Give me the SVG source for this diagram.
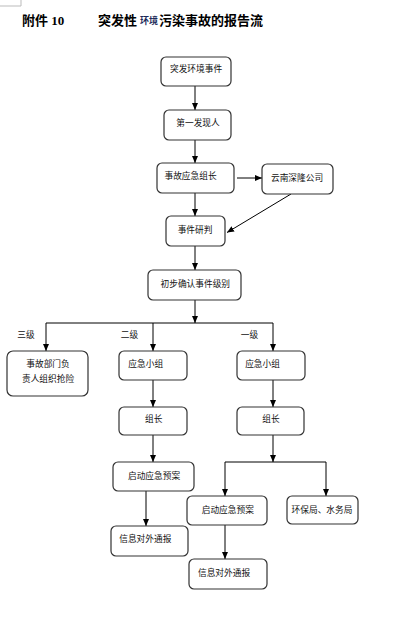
<svg xmlns="http://www.w3.org/2000/svg" width="419" height="628" viewBox="0 0 419 628">
<style>
.box{fill:#fff;stroke:#333;stroke-width:1.2}
.t{font-family:"Noto Sans CJK SC","Liberation Sans",sans-serif;font-size:8.7px;fill:#111;text-anchor:middle}
.ln{fill:none;stroke:#000;stroke-width:1}
.title{font-family:"Liberation Serif","Noto Sans CJK SC",serif;font-weight:bold;font-size:13px;fill:#000}
</style>
<defs>
<marker id="ah" markerUnits="userSpaceOnUse" markerWidth="8" markerHeight="8" viewBox="0 0 8 8" refX="7" refY="4" orient="auto">
<path d="M0,1 L7,4 L0,7 Z" fill="#000"/>
</marker>
</defs>
<rect width="419" height="628" fill="#fff"/>
<path d="M0,6 H21 V0" fill="none" stroke="#bbb" stroke-width="1"/>
<g id="title">
<text class="title" x="22" y="25">附件 10</text>
<text class="title" x="98" y="25">突发性</text>
<text x="140" y="24" style="font-family:'Noto Sans CJK SC',sans-serif;font-size:9px;font-weight:bold;fill:#1c2a5a">环境</text>
<text class="title" x="159" y="25">污染事故的报告流</text>
</g>
<g id="connectors">
<line class="ln" x1="195" y1="86" x2="195" y2="110" marker-end="url(#ah)"/>
<line class="ln" x1="195" y1="140" x2="195" y2="163" marker-end="url(#ah)"/>
<line class="ln" x1="237" y1="178" x2="262" y2="178" marker-end="url(#ah)"/>
<line class="ln" x1="195" y1="193" x2="195" y2="216" marker-end="url(#ah)"/>
<line class="ln" x1="291" y1="194" x2="227" y2="232.5" marker-end="url(#ah)"/>
<line class="ln" x1="195" y1="246" x2="195" y2="270" marker-end="url(#ah)"/>
<line class="ln" x1="195" y1="300" x2="195" y2="323" marker-end="url(#ah)"/>
<line class="ln" x1="46" y1="323" x2="273" y2="323"/>
<line class="ln" x1="46" y1="323" x2="46" y2="351" marker-end="url(#ah)"/>
<line class="ln" x1="153" y1="323" x2="153" y2="351" marker-end="url(#ah)"/>
<line class="ln" x1="273" y1="323" x2="273" y2="351" marker-end="url(#ah)"/>
<line class="ln" x1="153" y1="380" x2="153" y2="407" marker-end="url(#ah)"/>
<line class="ln" x1="273" y1="380" x2="273" y2="407" marker-end="url(#ah)"/>
<line class="ln" x1="153" y1="435" x2="153" y2="462" marker-end="url(#ah)"/>
<line class="ln" x1="273" y1="435" x2="273" y2="462" marker-end="url(#ah)"/>
<line class="ln" x1="225" y1="462" x2="326" y2="462"/>
<line class="ln" x1="225" y1="462" x2="225" y2="496" marker-end="url(#ah)"/>
<line class="ln" x1="326" y1="462" x2="326" y2="496" marker-end="url(#ah)"/>
<line class="ln" x1="146" y1="491" x2="146" y2="526" marker-end="url(#ah)"/>
<line class="ln" x1="225" y1="525" x2="225" y2="559" marker-end="url(#ah)"/>
</g>
<g id="labels">
<text class="t" x="26" y="338">三级</text>
<text class="t" x="129.5" y="338">二级</text>
<text class="t" x="249.5" y="338">一级</text>
</g>
<g id="n1"><rect class="box" x="161" y="57" width="70" height="29" rx="5"/><text class="t" x="196" y="71.5">突发环境事件</text></g>
<g id="n2"><rect class="box" x="164" y="110" width="67" height="30" rx="5"/><text class="t" x="198" y="126">第一发现人</text></g>
<g id="n3"><rect class="box" x="157" y="163" width="77" height="30" rx="5"/><text class="t" x="190.5" y="179">事故应急组长</text></g>
<g id="n4"><rect class="box" x="262" y="164" width="71" height="30" rx="5"/><text class="t" x="297" y="181">云南深隆公司</text></g>
<g id="n5"><rect class="box" x="166" y="216" width="59" height="30" rx="5"/><text class="t" x="195" y="233">事件研判</text></g>
<g id="n6"><rect class="box" x="148" y="270" width="93" height="30" rx="5"/><text class="t" x="195.3" y="286.5">初步确认事件级别</text></g>
<g id="n7"><rect class="box" x="7" y="351" width="81" height="45" rx="6"/><text class="t" x="48" y="366.5">事故部门负</text><text class="t" x="48" y="381.5">责人组织抢险</text></g>
<g id="n8"><rect class="box" x="119" y="351" width="68" height="29" rx="5"/><text class="t" x="145.7" y="366.5">应急小组</text></g>
<g id="n9"><rect class="box" x="237" y="351" width="68" height="29" rx="5"/><text class="t" x="262.5" y="366.5">应急小组</text></g>
<g id="n10"><rect class="box" x="119" y="407" width="68" height="28" rx="5"/><text class="t" x="153.8" y="422">组长</text></g>
<g id="n11"><rect class="box" x="237" y="407" width="67" height="28" rx="5"/><text class="t" x="271" y="422">组长</text></g>
<g id="n12"><rect class="box" x="113" y="462" width="81" height="29" rx="5"/><text class="t" x="154" y="479">启动应急预案</text></g>
<g id="n13"><rect class="box" x="111" y="526" width="77" height="30" rx="5"/><text class="t" x="145.3" y="542">信息对外通报</text></g>
<g id="n14"><rect class="box" x="187" y="496" width="80" height="29" rx="5"/><text class="t" x="227.8" y="513">启动应急预案</text></g>
<g id="n15"><rect class="box" x="189" y="559" width="78" height="30" rx="5"/><text class="t" x="224" y="575.5">信息对外通报</text></g>
<g id="n16"><rect class="box" x="287" y="496" width="71" height="28" rx="5"/><text class="t" x="322" y="512.5">环保局、水务局</text></g>
</svg>
